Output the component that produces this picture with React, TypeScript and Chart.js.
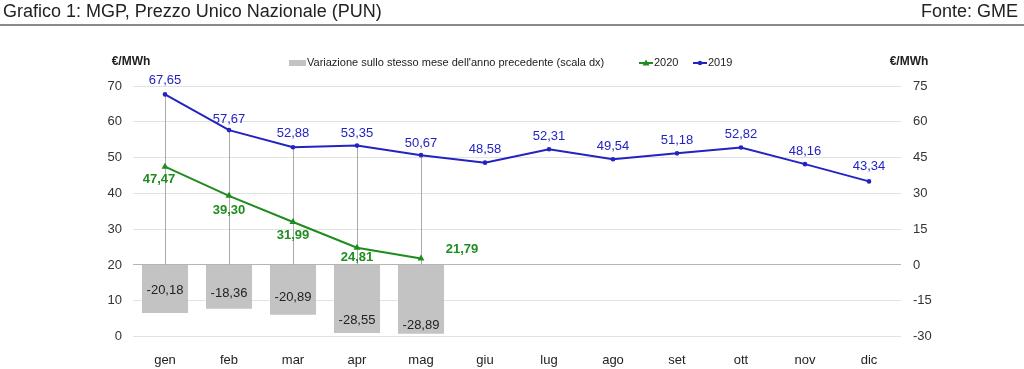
import React, { useEffect, useRef } from "react";
import { Chart, registerables } from "chart.js";

Chart.register(...registerables);

const months = ["gen", "feb", "mar", "apr", "mag", "giu", "lug", "ago", "set", "ott", "nov", "dic"];
const pun2019 = [67.65, 57.67, 52.88, 53.35, 50.67, 48.58, 52.31, 49.54, 51.18, 52.82, 48.16, 43.34];
const pun2020 = [47.47, 39.3, 31.99, 24.81, 21.79, null, null, null, null, null, null, null];
const variation = [-20.18, -18.36, -20.89, -28.55, -28.89, null, null, null, null, null, null, null];

const titleText = "Grafico 1: MGP, Prezzo Unico Nazionale (PUN)";
const sourceText = "Fonte: GME";
const unitText = "€/MWh";
const legendBar = "Variazione sullo stesso mese dell'anno precedente (scala dx)";
const legend2020 = "2020";
const legend2019 = "2019";

// label placement (pixel offsets from the point / bar top)
const label2019Dy = [-14, -11, -14, -12, -12, -13, -13, -13, -13, -13, -13, -15];
const label2020Pos = [
  [-6, 13],
  [0, 15],
  [0, 13],
  [0, 10],
  [41, -9],
];
const barLabelDy = [25, 28, 32, 55, 60];

const FONT = "'Liberation Sans', Arial, sans-serif";
const BLUE = "#2323c2";
const GREEN = "#1e8c1e";
const BAR = "#c3c3c3";

const fmt = (v: number) => v.toFixed(2).replace(".", ",");

const overlay = {
  id: "overlay",
  beforeDatasetsDraw(chart: any) {
    const ctx = chart.ctx;
    const m19 = chart.getDatasetMeta(1);
    const y2 = chart.scales.y2;
    const base = y2.getPixelForValue(0);
    ctx.save();
    ctx.strokeStyle = "#aaaaaa";
    ctx.lineWidth = 1;
    variation.forEach((v, i) => {
      if (v === null) return;
      const p = m19.data[i];
      ctx.beginPath();
      ctx.moveTo(Math.round(p.x) + 0.5, p.y);
      ctx.lineTo(Math.round(p.x) + 0.5, base);
      ctx.stroke();
    });
    ctx.restore();
  },
  afterDatasetsDraw(chart: any) {
    const ctx = chart.ctx;
    ctx.save();
    ctx.textAlign = "center";
    ctx.textBaseline = "middle";
    const m19 = chart.getDatasetMeta(1);
    ctx.fillStyle = BLUE;
    ctx.font = `13px ${FONT}`;
    pun2019.forEach((v, i) => {
      const p = m19.data[i];
      ctx.fillText(fmt(v), p.x, p.y + label2019Dy[i]);
    });
    const m20 = chart.getDatasetMeta(0);
    ctx.fillStyle = GREEN;
    ctx.font = `bold 13px ${FONT}`;
    pun2020.forEach((v, i) => {
      if (v === null) return;
      const p = m20.data[i];
      const [dx, dy] = label2020Pos[i];
      ctx.fillText(fmt(v), p.x + dx, p.y + dy);
    });
    const mb = chart.getDatasetMeta(2);
    ctx.fillStyle = "#222";
    ctx.font = `13px ${FONT}`;
    variation.forEach((v, i) => {
      if (v === null) return;
      const b = mb.data[i];
      ctx.fillText(fmt(v), b.x, b.base + barLabelDy[i]);
    });
    ctx.restore();
  },
  afterDraw(chart: any) {
    const ctx = chart.ctx;
    const W = chart.width;
    ctx.save();
    ctx.fillStyle = "#222";
    ctx.font = `18px ${FONT}`;
    ctx.textBaseline = "middle";
    ctx.textAlign = "left";
    ctx.fillText(titleText, 3, 12);
    ctx.textAlign = "right";
    ctx.fillText(sourceText, W - 6, 12);
    ctx.fillStyle = "#8a8a8a";
    ctx.fillRect(0, 24, W, 2);
    ctx.fillStyle = "#222";
    ctx.font = `bold 12px ${FONT}`;
    ctx.textAlign = "center";
    ctx.fillText(unitText, 131, 62);
    ctx.fillText(unitText, 909, 62);
    const ly = 63;
    ctx.font = `11px ${FONT}`;
    ctx.textAlign = "left";
    ctx.fillStyle = BAR;
    ctx.fillRect(289, ly - 3, 17, 6);
    ctx.fillStyle = "#222";
    ctx.fillText(legendBar, 307, ly);
    const drawLineItem = (x: number, color: string, tri: boolean, label: string) => {
      ctx.strokeStyle = color;
      ctx.lineWidth = 2;
      ctx.beginPath();
      ctx.moveTo(x, ly);
      ctx.lineTo(x + 14, ly);
      ctx.stroke();
      ctx.fillStyle = color;
      ctx.beginPath();
      if (tri) {
        ctx.moveTo(x + 7, ly - 3.5);
        ctx.lineTo(x + 10.5, ly + 2.5);
        ctx.lineTo(x + 3.5, ly + 2.5);
        ctx.closePath();
      } else {
        ctx.arc(x + 7, ly, 2.2, 0, Math.PI * 2);
      }
      ctx.fill();
      ctx.fillStyle = "#222";
      ctx.fillText(label, x + 15, ly);
    };
    drawLineItem(639, GREEN, true, legend2020);
    drawLineItem(693, BLUE, false, legend2019);
    ctx.restore();
  },
};

export default function App() {
  const ref = useRef<HTMLCanvasElement | null>(null);
  useEffect(() => {
    document.body.style.margin = "0";
    const canvas = ref.current!;
    const chart = new Chart(canvas, {
      type: "bar",
      data: {
        labels: months,
        datasets: [
          {
            type: "line",
            label: legend2020,
            data: pun2020 as any,
            yAxisID: "y",
            borderColor: GREEN,
            backgroundColor: GREEN,
            borderWidth: 2,
            pointStyle: "triangle",
            pointRadius: 4,
            pointBorderWidth: 0,
            tension: 0,
            spanGaps: false,
            order: 1,
          } as any,
          {
            type: "line",
            label: legend2019,
            data: pun2019,
            yAxisID: "y",
            borderColor: BLUE,
            backgroundColor: BLUE,
            borderWidth: 2,
            pointStyle: "circle",
            pointRadius: 2.3,
            pointBorderWidth: 0,
            tension: 0,
            order: 2,
          } as any,
          {
            type: "bar",
            label: legendBar,
            data: variation as any,
            yAxisID: "y2",
            backgroundColor: BAR,
            borderWidth: 0,
            categoryPercentage: 0.72,
            barPercentage: 1,
            order: 3,
          } as any,
        ],
      },
      options: {
        responsive: false,
        animation: false,
        layout: { padding: { top: 86, left: 0, right: 0, bottom: 0 } },
        plugins: { legend: { display: false }, tooltip: { enabled: false } },
        scales: {
          x: {
            offset: true,
            grid: { display: false },
            border: { display: false },
            ticks: { color: "#222", font: { family: FONT, size: 13 }, padding: 8 },
            afterFit: (s: any) => {
              s.height = 32.5;
            },
          },
          y: {
            position: "left",
            min: 0,
            max: 70,
            ticks: { stepSize: 10, color: "#333", font: { family: FONT, size: 13 }, padding: 11 },
            grid: {
              drawTicks: false,
              color: (c: any) => (c.tick && c.tick.value === 20 ? "#b5b5b5" : "#e2e2e2"),
              lineWidth: 1,
            },
            border: { display: false },
            afterFit: (s: any) => {
              s.width = 133;
            },
          },
          y2: {
            position: "right",
            min: -30,
            max: 75,
            ticks: { stepSize: 15, color: "#333", font: { family: FONT, size: 13 }, padding: 12 },
            grid: { display: false, drawTicks: false },
            border: { display: false },
            afterFit: (s: any) => {
              s.width = 123;
            },
          },
        },
      },
      plugins: [overlay],
    });
    return () => chart.destroy();
  }, []);
  return (
    <div style={{ position: "absolute", left: 0, top: 0, width: 1024, height: 369, background: "#fff" }}>
      <canvas ref={ref} width={1024} height={369} style={{ width: 1024, height: 369, display: "block" }} />
    </div>
  );
}
